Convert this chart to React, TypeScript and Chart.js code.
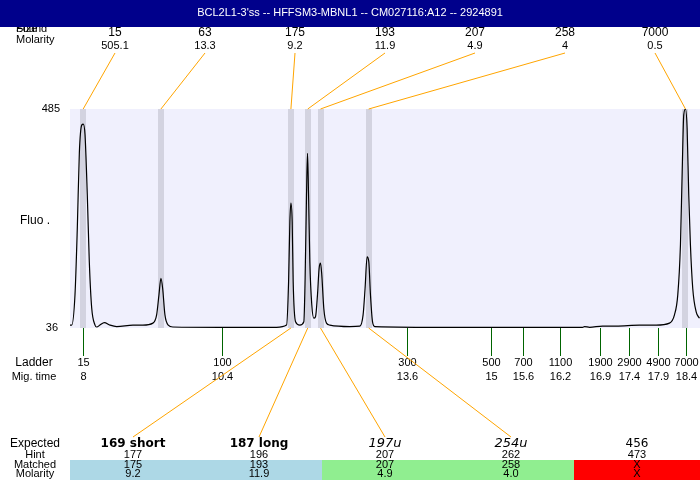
import React, { useEffect, useRef } from 'react';
import { Chart, registerables } from 'chart.js';

Chart.register(...registerables);

const TITLE = "BCL2L1-3'ss -- HFFSM3-MBNL1 -- CM027116:A12 -- 2924891";

// Electropherogram trace: migration time (s) and fluorescence
const traceTime = [
  7.793, 7.823, 7.879, 7.919, 7.954, 7.995, 8.022, 8.052, 8.091, 8.126, 8.167, 8.224, 8.253,
  8.31, 8.384, 8.482, 8.597, 8.878, 9.05, 9.222, 9.286, 9.326, 9.36, 9.389, 9.429, 9.486, 9.567,
  10.376, 11.352, 11.525, 11.56, 11.582, 11.6, 11.622, 11.639, 11.68, 11.754, 11.823, 11.845,
  11.869, 11.886, 11.904, 11.926, 11.96, 11.995, 12.024, 12.058, 12.086, 12.11, 12.132, 12.167,
  12.213, 12.27, 12.614, 12.787, 12.844, 12.878, 12.913, 12.942, 12.971, 13.006, 13.045, 14.337,
  16.626, 16.66, 16.747, 16.97, 17.206, 17.607, 17.895, 18.124, 18.21, 18.267, 18.313, 18.343,
  18.37, 18.4, 18.428, 18.456, 18.485, 18.525, 18.584, 18.641,
];
const traceFluo = [
  42, 42, 104, 241, 395, 452, 454, 432, 309, 171, 77, 42, 38,
  42, 47, 42, 39, 42, 42, 46, 63, 104, 138, 118, 63, 42, 38,
  37.4, 37.4, 42, 131, 254, 292, 254, 131, 49, 42, 49, 138,
  309, 394, 309, 172, 83, 56, 59, 104, 158, 169, 145, 76,
  46, 42, 39, 40, 63, 117, 182, 172, 104, 49, 39, 37.4,
  37.4, 39, 37.4, 40, 40, 42, 42, 46, 63, 104, 206, 356,
  473, 485, 445, 309, 206, 117, 69, 56,
];

// Detected peaks
const peakTime = [8.02, 9.36, 11.6, 11.89, 12.11, 12.94, 18.4];
const peakSize = ['15', '63', '175', '193', '207', '258', '7000'];
const peakMolarity = ['505.1', '13.3', '9.2', '11.9', '4.9', '4', '0.5'];

// Ladder
const ladderSize = ['15', '100', '300', '500', '700', '1100', '1900', '2900', '4900', '7000'];
const ladderTime = [8.02, 10.405, 13.607, 15.054, 15.6, 16.235, 16.924, 17.423, 17.922, 18.404];
const ladderTimeLabel = ['8', '10.4', '13.6', '15', '15.6', '16.2', '16.9', '17.4', '17.9', '18.4'];

// Expected table
const expectedLabel = ['169 short', '187 long', '197u', '254u', '456'];
const expectedStyle = ['bold', 'bold', 'italic', 'italic', 'normal'];
const expectedPeakIndex = [2, 3, 4, 5, -1];
const hintValue = ['177', '196', '207', '262', '473'];
const matchedValue = ['175', '193', '207', '258', 'X'];
const matchedMolarity = ['9.2', '11.9', '4.9', '4.0', 'X'];
const matchColor = ['#ADD8E6', '#ADD8E6', '#90EE90', '#90EE90', '#FF0000'];

const Y_MIN = 36;
const Y_MAX = 485;
const X_MIN = 7.793;
const X_MAX = 18.65;

const FONT = '"Liberation Sans", Arial, sans-serif';
const ORANGE = '#FFA500';

const decorPlugin = {
  id: 'decor',
  beforeDraw(chart: any) {
    const { ctx, chartArea, scales } = chart;
    const x = scales.x;
    const W = chart.width;
    ctx.save();
    ctx.fillStyle = '#FFFFFF';
    ctx.fillRect(0, 0, W, chart.height);
    // plot background
    ctx.fillStyle = '#F0F0FD';
    ctx.fillRect(chartArea.left, chartArea.top, chartArea.right - chartArea.left, chartArea.bottom - chartArea.top);
    // peak bands
    ctx.fillStyle = '#D3D3E0';
    peakTime.forEach((t) => {
      const px = Math.round(x.getPixelForValue(t));
      ctx.fillRect(px - 3, chartArea.top, 6, chartArea.bottom - chartArea.top);
    });
    ctx.restore();
  },
  afterDatasetsDraw(chart: any) {
    const { ctx, chartArea, scales } = chart;
    const x = scales.x;
    const W = chart.width;
    const left = chartArea.left;
    const right = chartArea.right;
    const top = chartArea.top;
    const bottom = chartArea.bottom;
    ctx.save();
    ctx.textBaseline = 'middle';

    // Top-left labels (overlapping)
    ctx.fillStyle = '#000';
    ctx.textAlign = 'left';
    ctx.font = `11px ${FONT}`;
    ctx.fillText('Found', 16, 29);
    ctx.fillText('Size', 16, 29);
    ctx.fillText('Molarity', 16, 40);

    // Header
    ctx.fillStyle = '#00008B';
    ctx.fillRect(0, 0, W, 27);
    ctx.fillStyle = '#FFFFFF';
    ctx.textAlign = 'center';
    ctx.font = `11px ${FONT}`;
    ctx.fillText(TITLE, W / 2, 13);

    // Peak labels and connectors to the top of the plot
    const colW = (right - left) / peakTime.length;
    ctx.strokeStyle = ORANGE;
    ctx.lineWidth = 1;
    peakTime.forEach((t, i) => {
      const cx = left + (i + 0.5) * colW;
      ctx.fillStyle = '#000';
      ctx.font = `12px ${FONT}`;
      ctx.fillText(peakSize[i], cx, 33);
      ctx.font = `11px ${FONT}`;
      ctx.fillText(peakMolarity[i], cx, 46);
      ctx.beginPath();
      ctx.moveTo(cx, 53);
      ctx.lineTo(x.getPixelForValue(t), top);
      ctx.stroke();
    });

    // Y labels
    ctx.fillStyle = '#000';
    ctx.font = `11px ${FONT}`;
    ctx.textAlign = 'right';
    ctx.fillText(String(Y_MAX), 60, top);
    ctx.fillText(String(Y_MIN), 58, bottom);
    ctx.textAlign = 'center';
    ctx.font = `12px ${FONT}`;
    ctx.fillText('Fluo .', 35, 221);

    // Ladder
    ctx.font = `12px ${FONT}`;
    ctx.fillText('Ladder', 34, 363);
    ctx.font = `11px ${FONT}`;
    ctx.fillText('Mig. time', 34, 377);
    ctx.strokeStyle = '#006400';
    ladderTime.forEach((t, i) => {
      const px = Math.round(x.getPixelForValue(t)) + 0.5;
      ctx.beginPath();
      ctx.moveTo(px, bottom);
      ctx.lineTo(px, bottom + 28);
      ctx.stroke();
      ctx.fillStyle = '#000';
      ctx.font = `11px ${FONT}`;
      ctx.fillText(ladderSize[i], px, 363);
      ctx.fillText(ladderTimeLabel[i], px, 377);
    });

    // Expected table
    const tW = (right - left) / expectedLabel.length;
    matchColor.forEach((c, i) => {
      ctx.fillStyle = c;
      ctx.fillRect(left + i * tW, 460, tW + 0.5, 20);
    });
    ctx.strokeStyle = ORANGE;
    expectedPeakIndex.forEach((pi, i) => {
      if (pi < 0) return;
      const cx = left + (i + 0.5) * tW;
      ctx.beginPath();
      ctx.moveTo(x.getPixelForValue(peakTime[pi]), bottom);
      ctx.lineTo(cx, 437);
      ctx.stroke();
    });
    ctx.fillStyle = '#000';
    ctx.font = `12px ${FONT}`;
    ctx.fillText('Expected', 35, 444);
    ctx.font = `11px ${FONT}`;
    ctx.fillText('Hint', 35, 455);
    ctx.fillText('Matched', 35, 465);
    ctx.fillText('Molarity', 35, 474);
    expectedLabel.forEach((lab, i) => {
      const cx = left + (i + 0.5) * tW;
      const st = expectedStyle[i];
      if (st === 'bold') ctx.font = `bold 12px "DejaVu Sans", sans-serif`;
      else if (st === 'italic') ctx.font = `oblique 13px "DejaVu Sans", sans-serif`;
      else ctx.font = `12px "DejaVu Sans", sans-serif`;
      ctx.fillText(lab, cx, 444);
      ctx.font = `11px ${FONT}`;
      ctx.fillText(hintValue[i], cx, 455);
      ctx.fillText(matchedValue[i], cx, 465);
      ctx.fillText(matchedMolarity[i], cx, 474);
    });

    ctx.restore();
  },
};

export default function App() {
  const canvasRef = useRef<HTMLCanvasElement | null>(null);

  useEffect(() => {
    document.body.style.margin = '0';
    const canvas = canvasRef.current;
    if (!canvas) return;
    const points = traceTime.map((t, i) => ({ x: t, y: traceFluo[i] }));
    const chart = new Chart(canvas, {
      type: 'line',
      data: {
        datasets: [
          {
            data: points,
            borderColor: '#000000',
            borderWidth: 1.2,
            pointRadius: 0,
            fill: false,
            cubicInterpolationMode: 'monotone',
          },
        ],
      },
      options: {
        animation: false,
        responsive: false,
        devicePixelRatio: 1,
        layout: { padding: { left: 70, right: 0, top: 109, bottom: 152 } },
        scales: {
          x: { type: 'linear', min: X_MIN, max: X_MAX, display: false },
          y: { type: 'linear', min: Y_MIN, max: Y_MAX, display: false },
        },
        plugins: {
          legend: { display: false },
          tooltip: { enabled: false },
        },
      },
      plugins: [decorPlugin],
    } as any);
    return () => chart.destroy();
  }, []);

  return (
    <div style={{ width: 700, height: 480 }}>
      <canvas ref={canvasRef} width={700} height={480} />
    </div>
  );
}
